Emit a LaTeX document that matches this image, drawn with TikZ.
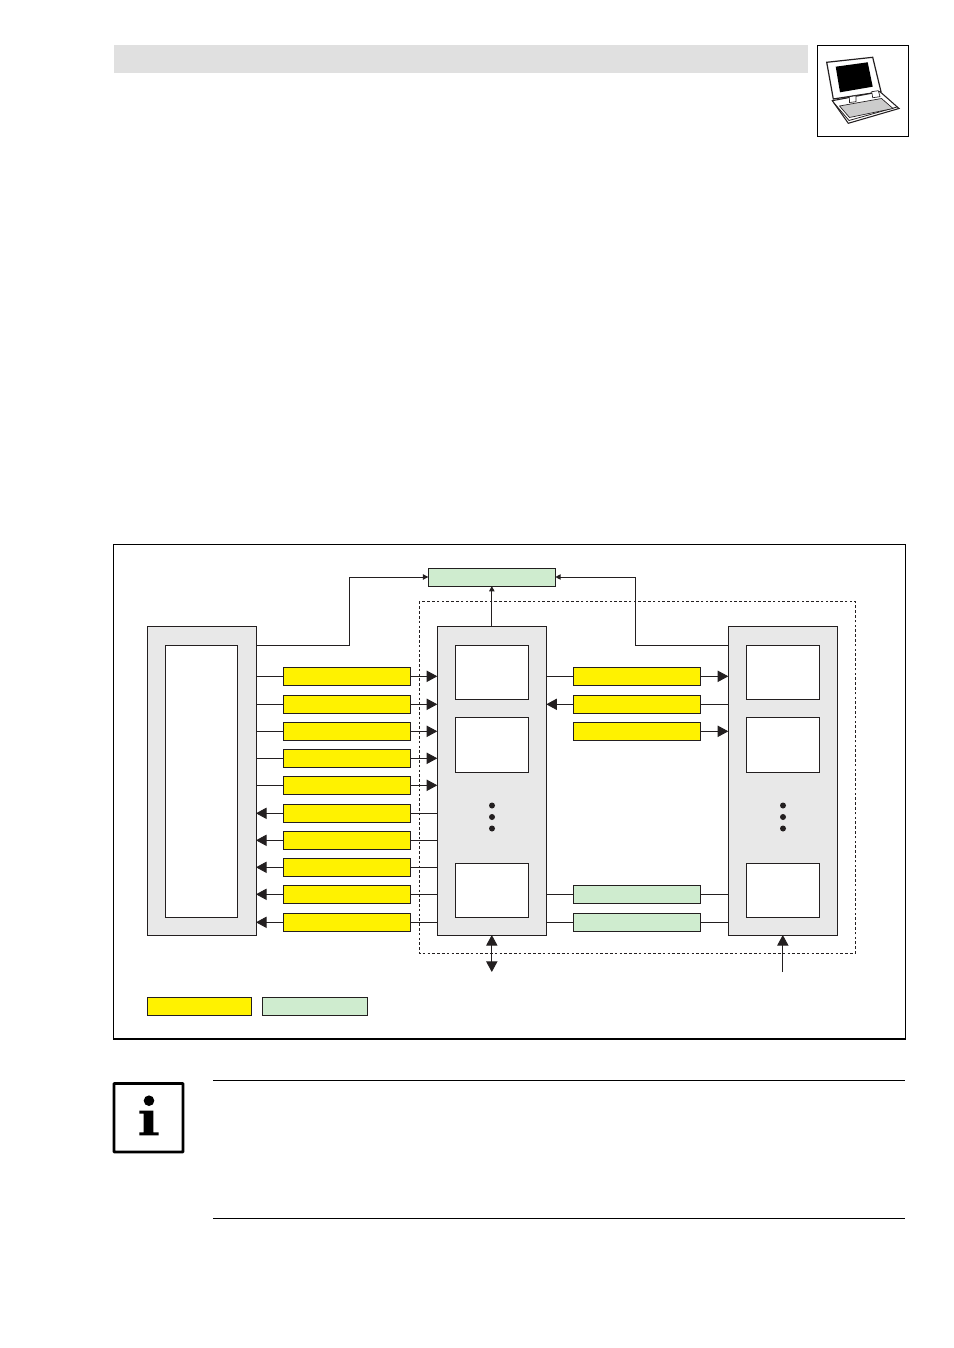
\documentclass[tikz,border=0pt]{standalone}
\usetikzlibrary{arrows.meta}
\definecolor{panelgrey}{HTML}{E8E8E8}
\definecolor{headgrey}{HTML}{E0E0E0}
\definecolor{yel}{HTML}{FFF200}
\definecolor{grn}{HTML}{CFECCF}
\definecolor{ink}{HTML}{231F20}
\tikzset{
  x=0.75pt,y=-0.75pt,
  ln/.style={draw=ink,line width=0.7pt},
  boxbase/.style={ln,anchor=north west,inner sep=0pt,outer sep=0pt},
  panel/.style={boxbase,fill=panelgrey,minimum width=109*0.75pt,minimum height=308.5*0.75pt},
  inner/.style={boxbase,fill=white,minimum width=73*0.75pt},
  ybox/.style={boxbase,fill=yel,minimum width=127*0.75pt,minimum height=18*0.75pt},
  gbox/.style={boxbase,fill=grn,minimum width=127*0.75pt,minimum height=18*0.75pt},
  big/.style={-{Triangle[length=8pt,width=8.5pt]},ln},
  small/.style={-{Triangle[length=4pt,width=4pt]},ln},
  dot/.style={circle,fill=ink,draw=none,inner sep=0pt,minimum size=4.5pt},
}
\begin{document}
\begin{tikzpicture}
\useasboundingbox (0,0) rectangle (953,1348);
% header
\fill[headgrey] (114,45) rectangle (808,73);
\draw[black,line width=0.6pt] (817.3,45.3) rectangle (908.3,136);
% laptop
\draw[ink,line width=0.9pt,fill=white] (826.7,62.3)--(872.7,57.3)--(881,91.7)--(833.3,99)--cycle;
\fill[black] (835.7,66.7)--(867.7,62.3)--(872.7,86.7)--(840,92.3)--cycle;
\draw[ink,line width=0.8pt,fill=white] (832.3,100.7)--(880,91.7)--(899,108.5)--(848.3,123.3)--cycle;
\draw[ink,line width=0.6pt] (834,103)--(849,120.5)--(897,107);
\draw[ink,line width=0.5pt,fill=gray!40] (839.5,106)--(881.5,98.5)--(893,108.5)--(849.5,117.5)--cycle;
\draw[ink,line width=0.5pt,fill=white] (849.3,96.7)--(856,95.7)--(856,101.7)--(849.5,102.5)--cycle;
\draw[ink,line width=0.5pt,fill=white] (871.7,91.7)--(878.3,90.7)--(880,96.7)--(872.7,97.7)--cycle;
% frame
\draw[black,line width=1.2pt] (113.5,544.5) rectangle (905.3,1039);
% dashed
\draw[ink,line width=0.7pt,dash pattern=on 2pt off 1.6pt] (419,601.5) rectangle (855.3,953);
% panels
\node[panel] (L) at (147,626.5) {};
\node[panel] (M) at (437.3,626.5) {};
\node[panel] (R) at (728.3,626.5) {};
\node[inner,minimum width=72.5*0.75pt,minimum height=272*0.75pt] (Li) at (165,645) {};
\node[inner,minimum height=54.5*0.75pt] (Ma) at (455.3,645) {};
\node[inner,minimum height=55*0.75pt] (Mb) at (455.3,717.3) {};
\node[inner,minimum height=54*0.75pt] (Mc) at (455.3,863.3) {};
\node[inner,minimum height=54.5*0.75pt] (Ra) at (746.3,645) {};
\node[inner,minimum height=55*0.75pt] (Rb) at (746.3,717.3) {};
\node[inner,minimum height=54*0.75pt] (Rc) at (746.3,863.3) {};
\foreach \n/\yy in {a/805.5,b/817,c/828.5}{
  \node[dot] (Md\n) at (492,\yy) {};
  \node[dot] (Rd\n) at (783,\yy) {};
}
% top green
\node[gbox] (T) at (428.3,568) {};
\coordinate (Lo) at (256,645);
\coordinate (Lk) at (349.5,645);
\coordinate (Ro) at (728.3,645);
\coordinate (Rk) at (635.7,645);
\draw[small] (Lo) -- (Lk) |- (T.west);
\draw[small] (Ro) -- (Rk) |- (T.east);
\draw[small] (M.north) -- (T.south);
% left column of yellow boxes
\foreach \i/\yy in {1/667.3,2/695.3,3/722.3,4/749.3,5/776.3,6/804.3,7/831.3,8/858.3,9/885.3,10/913.3}{
  \node[ybox] (Y\i) at (283.3,\yy) {};
}
\foreach \i in {1,...,5}{
  \draw[ln] (Y\i.west -| L.east) -- (Y\i.west);
  \draw[big] (Y\i.east) -- (Y\i.east -| M.west);
}
\foreach \i in {6,...,10}{
  \draw[ln] (Y\i.east -| M.west) -- (Y\i.east);
  \draw[big] (Y\i.west) -- (Y\i.west -| L.east);
}
% right column
\node[ybox] (Z1) at (573.3,667.3) {};
\node[ybox] (Z2) at (573.3,695.3) {};
\node[ybox] (Z3) at (573.3,722.3) {};
\node[gbox] (G1) at (573.3,885.3) {};
\node[gbox] (G2) at (573.3,913.3) {};
\draw[ln] (Z1.west -| M.east) -- (Z1.west);
\draw[big] (Z1.east) -- (Z1.east -| R.west);
\draw[big] (Z2.west) -- (Z2.west -| M.east);
\draw[ln] (Z2.east) -- (Z2.east -| R.west);
\draw[big] (Z3.east) -- (Z3.east -| R.west);
\draw[ln] (G1.west -| M.east) -- (G1.west);
\draw[ln] (G1.east) -- (G1.east -| R.west);
\draw[ln] (G2.west -| M.east) -- (G2.west);
\draw[ln] (G2.east) -- (G2.east -| R.west);
% bottom arrows
\coordinate (Mout) at (491.8,972);
\coordinate (Rin) at (782.8,972);
\draw[{Triangle[length=8pt,width=8.5pt]}-{Triangle[length=8pt,width=8.5pt]},ln] (M.south) -- (Mout);
\draw[big] (Rin) -- (R.south);
% legend
\node[boxbase,fill=yel,minimum width=104*0.75pt,minimum height=18*0.75pt] (LY) at (147,997) {};
\node[boxbase,fill=grn,minimum width=105*0.75pt,minimum height=18*0.75pt] (LG) at (262,997) {};
% note
\draw[black,line width=0.6pt] (213,1080) -- (905,1080);
\draw[black,line width=0.6pt] (213,1218) -- (905,1218);
\draw[black,line width=2.2pt,rounded corners=0.6pt] (114,1083.5) rectangle (183,1152);
\fill[black] (149,1100.7) circle (5.3*0.75pt);
\fill[black] (139.3,1110.5) -- (153.3,1110.5) -- (153.3,1132.3) -- (158.5,1132.3) -- (158.5,1135.3) -- (139.3,1135.3) -- (139.3,1132.3) -- (143.5,1132.3) -- (143.5,1113.5) -- (139.3,1113.5) -- cycle;
\end{tikzpicture}
\end{document}
